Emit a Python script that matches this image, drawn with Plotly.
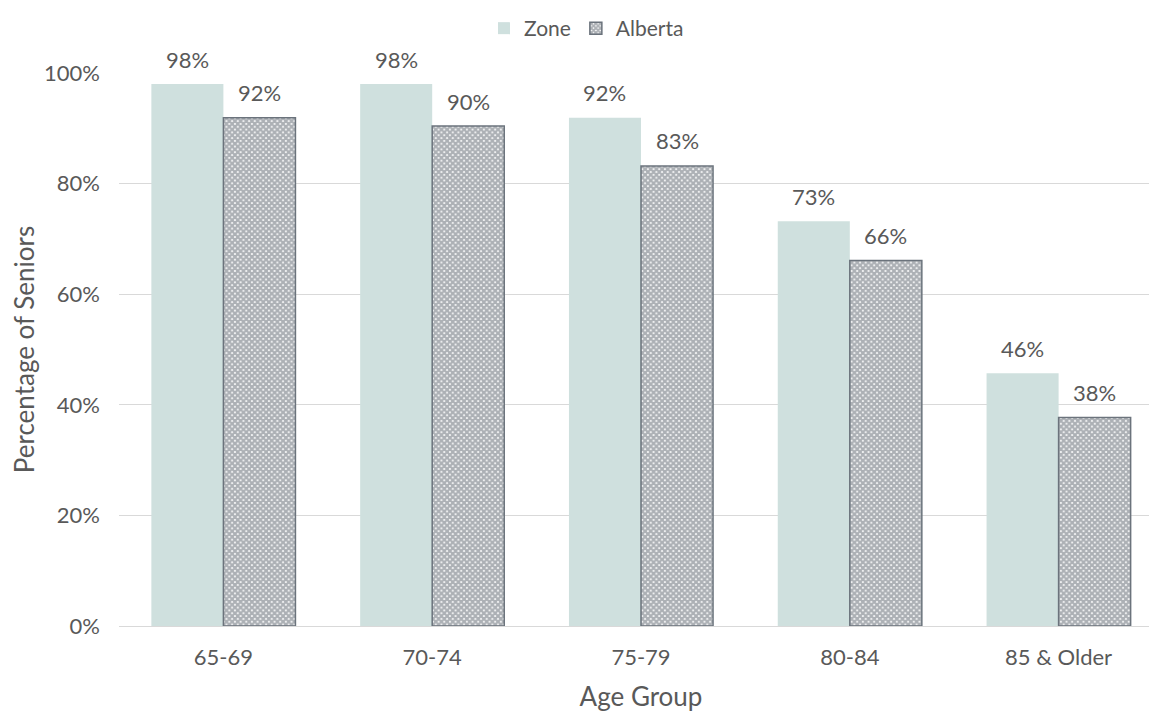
import plotly.graph_objects as go

categories = ["65-69", "70-74", "75-79", "80-84", "85 & Older"]
zone = [0.980, 0.980, 0.919, 0.732, 0.457]
alberta = [0.919, 0.904, 0.832, 0.661, 0.377]

FONT = "Lato"
TXT = "#595959"
FS = 22
TFS = 26
BARGAP = 0.31
half = (1 - BARGAP) / 4  # centre offset of each bar within its group

fig = go.Figure()
fig.add_trace(go.Bar(
    name="Zone", x=categories, y=zone,
    marker=dict(color="#cfe0de", line=dict(width=0)),
))
fig.add_trace(go.Bar(
    name="Alberta", x=categories, y=alberta,
    marker=dict(color="#ffffff", line=dict(width=1.5, color="#6b737c"),
                pattern=dict(shape="x", size=4, solidity=0.8, fgcolor="#5a626b", bgcolor="#ffffff")),
))

for i, (z, a) in enumerate(zip(zone, alberta)):
    for xv, yv in ((i - half, z), (i + half, a)):
        fig.add_annotation(x=xv, y=yv, xref="x", yref="y", text=f"{yv:.0%}",
                           showarrow=False, yanchor="middle", yshift=25,
                           font=dict(family=FONT, size=FS, color=TXT))

fig.update_layout(
    width=1157, height=711,
    barmode="group", bargap=BARGAP, bargroupgap=0,
    plot_bgcolor="white", paper_bgcolor="white",
    margin=dict(l=111, r=2, t=65, b=93, autoexpand=False),
    font=dict(family=FONT, size=FS, color=TXT),
    legend=dict(orientation="h", xref="container", x=0.5, xanchor="center",
                yref="container", y=1.0, yanchor="top",
                font=dict(family=FONT, size=21, color=TXT), itemwidth=30,
                traceorder="normal"),
    xaxis=dict(title=dict(text="Age Group", font=dict(size=TFS), standoff=18),
               showline=True, linecolor="#d9d9d9", linewidth=1, ticks="",
               ticklabelstandoff=12),
    yaxis=dict(range=[0, 1], tickformat=".0%", dtick=0.2,
               gridcolor="#d9d9d9", gridwidth=1, zeroline=False,
               title=dict(text="Percentage of Seniors", font=dict(size=TFS), standoff=6),
               ticklabelstandoff=18),
)

fig.write_html("out.html")
